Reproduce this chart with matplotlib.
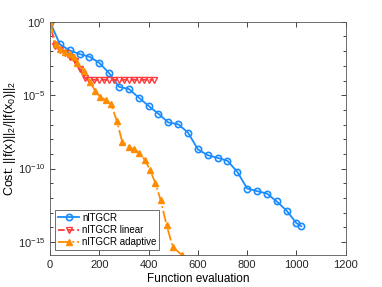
import numpy as np
import matplotlib
matplotlib.use("Agg")
import matplotlib.pyplot as plt
from matplotlib.ticker import FixedLocator, NullFormatter

plt.rcParams['font.family'] = ['Liberation Sans', 'DejaVu Sans']
plt.rcParams['mathtext.fontset'] = 'custom'
plt.rcParams['mathtext.rm'] = 'Liberation Sans'

# nlTGCR (log10 of cost)
x_base = [0, 40, 80, 120, 160, 200, 240, 280, 320, 360, 400, 440, 480, 520,
          560, 600, 640, 680, 720, 760, 800, 840, 880, 920, 960, 1000, 1020]
y_base = [0, -1.54, -1.95, -2.2, -2.38, -2.8, -3.5, -4.43, -4.58, -5.16, -5.73,
          -6.27, -6.86, -6.98, -7.55, -8.69, -9.09, -9.27, -9.47, -10.22, -11.36,
          -11.54, -11.70, -12.24, -12.86, -13.72, -13.93]

# nlTGCR linear
x_lin = [0, 20, 40, 60, 80, 100, 120, 140, 160, 180, 200, 220, 240, 260, 280,
         300, 320, 340, 360, 380, 400, 420]
y_lin = [0, -1.62, -1.9, -2.15, -2.4, -2.68, -3.2, -3.8, -3.95, -3.95, -3.95,
         -3.95, -3.95, -3.95, -3.95, -3.95, -3.95, -3.95, -3.95, -3.95, -3.95, -3.95]

# nlTGCR adaptive
x_ada = [0, 24, 41, 61, 81, 97, 111, 138, 162, 183, 203, 227, 248, 271, 293,
         321, 341, 362, 386, 406, 428, 449, 473, 498, 534]
y_ada = [0, -1.54, -1.88, -2.09, -2.22, -2.43, -2.84, -3.34, -4.09, -4.70, -5.11,
         -5.34, -5.61, -6.75, -8.18, -8.52, -8.70, -8.93, -9.43, -10.11, -11.0,
         -12.15, -13.86, -15.34, -15.87]

fig = plt.figure(figsize=(3.82, 2.87), dpi=100)
ax = fig.add_axes([0.131, 0.111, 0.774, 0.813])

blue = '#1a8cff'
red = '#ff3b3b'
orange = '#ff8c00'

ax.semilogy(x_base, 10.0 ** np.array(y_base), '-o', color=blue, lw=1.3,
            ms=4.5, mfc='none', mew=1.2, label='nlTGCR')
ax.semilogy(x_lin, 10.0 ** np.array(y_lin), '--v', color=red, lw=1.3,
            ms=4.5, mfc='none', mew=1.0, label='nlTGCR linear')
ax.semilogy(x_ada, 10.0 ** np.array(y_ada), '-.^', color=orange, lw=1.3,
            ms=4.5, mew=1.0, label='nlTGCR adaptive')

ax.set_xlim(0, 1200)
ax.set_ylim(10 ** -15.9, 1)
ax.set_xticks([0, 200, 400, 600, 800, 1000, 1200])
ax.yaxis.set_major_locator(FixedLocator([1e0, 1e-5, 1e-10, 1e-15]))
ax.yaxis.set_minor_locator(FixedLocator([10.0 ** k for k in range(-15, 1)]))
ax.yaxis.set_minor_formatter(NullFormatter())

ax.tick_params(which='both', direction='in', top=True, right=True,
               labelsize=8, colors='#262626', width=0.6)
ax.tick_params(which='major', length=3.5)
ax.tick_params(which='minor', length=2)
for s in ax.spines.values():
    s.set_color('#555555')
    s.set_linewidth(0.6)

ax.set_xlabel('Function evaluation', fontsize=8.5, labelpad=2)
ax.set_ylabel('Cost: ||f(x)||$_{\\mathregular{2}}$/||f(x$_{\\mathregular{0}}$)||$_{\\mathregular{2}}$',
              fontsize=9)
ax.yaxis.set_label_coords(-0.11, 0.5)

leg = ax.legend(loc='lower left', fontsize=7, fancybox=False, framealpha=1,
                edgecolor='#555555', borderpad=0.3, labelspacing=0.25,
                handlelength=2.2, handletextpad=0.3, borderaxespad=0.5)
leg.get_frame().set_linewidth(0.6)

fig.savefig('out.png', dpi=100)
